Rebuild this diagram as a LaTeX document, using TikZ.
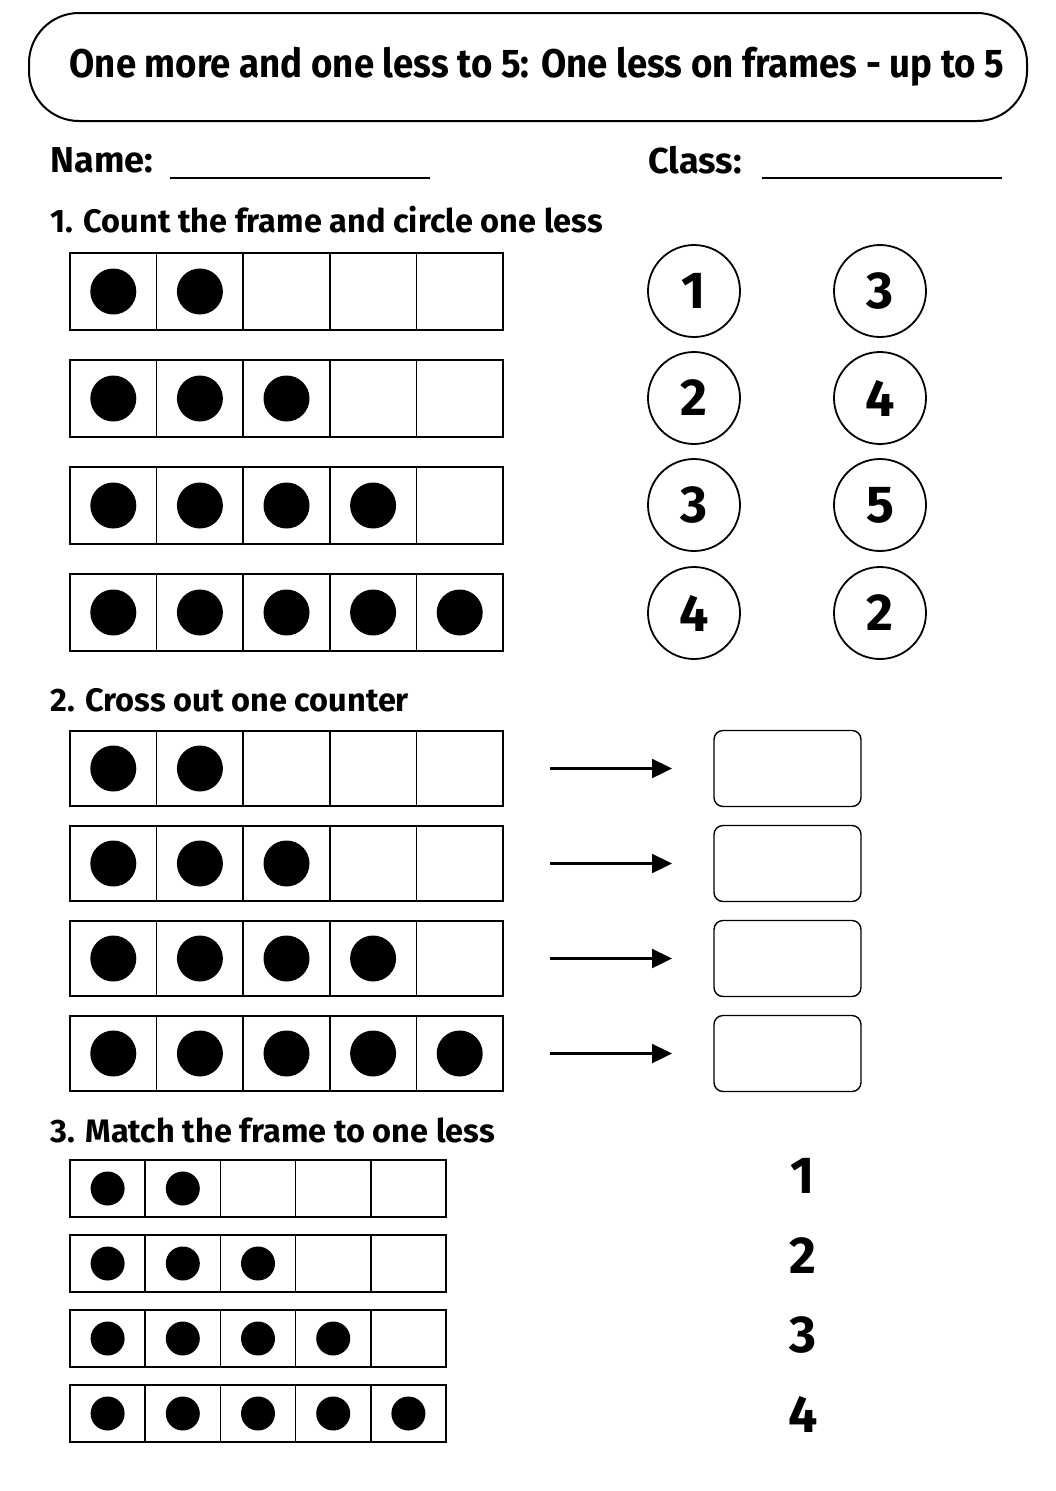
\documentclass[tikz,border=0pt]{standalone}
\usepackage{fontspec}
\setmainfont{Fira Sans}
\usetikzlibrary{arrows.meta}
\begin{document}
\begin{tikzpicture}[x=1pt,y=-1pt,
  cell/.style={draw,line width=1.6pt},
  dot/.style={fill=black},
  numc/.style={draw,circle,line width=1.8pt,minimum size=92pt,inner sep=0pt,font=\fontsize{52}{52}\selectfont\bfseries},
  head/.style={anchor=west,font=\fontsize{32.5}{33}\selectfont\bfseries},
  ansbox/.style={draw,line width=1.4pt,rounded corners=9pt,minimum width=147pt,minimum height=76pt},
  bignum/.style={font=\fontsize{52}{52}\selectfont\bfseries}]
\useasboundingbox (0,0) rectangle (1055,1491);
% title
\node[draw,line width=2pt,rounded corners=50pt,minimum width=998pt,minimum height=108pt] (title) at (528,67) {};
\node[font=\fontsize{40}{40}\selectfont\bfseries,xscale=0.915] (tt) at (537,67) {One more and one less to 5: One less on frames - up to 5};
% name/class
\node[head,font=\fontsize{36}{36}\selectfont\bfseries] (name) at (47,160) {Name:};
\draw[line width=1.6pt] (170,178) -- (430,178);
\node[head,font=\fontsize{36}{36}\selectfont\bfseries] (class) at (645,160) {Class:};
\draw[line width=1.6pt] (762,178) -- (1002,178);
% section 1
\node[head] (h1) at (47,220) {1. Count the frame and circle one less};
\foreach \y/\n in {253/2,360/3,467/4,574/5}{
  \foreach \i in {0,...,4}{
    \draw[cell] ({70+\i*86.6},\y) rectangle ({70+(\i+1)*86.6},\y+77);
  }
  \foreach \i in {1,...,\n}{
    \fill[dot] ({70+(\i-0.5)*86.6},\y+38.5) circle (23);
  }
}
\foreach \y/\a/\b [count=\k] in {291/1/3,398/2/4,505/3/5,613/4/2}{
  \node[numc] (ca\k) at (694,\y) {\a};
  \node[numc] (cb\k) at (880,\y) {\b};
}
% section 2
\node[head] (h2) at (47,700) {2. Cross out one counter};
\foreach \y/\n [count=\k] in {731/2,826/3,921/4,1016/5}{
  \foreach \i in {0,...,4}{
    \draw[cell] ({70+\i*86.6},\y) rectangle ({70+(\i+1)*86.6},\y+75);
  }
  \foreach \i in {1,...,\n}{
    \fill[dot] ({70+(\i-0.5)*86.6},\y+37.5) circle (23);
  }
  \node[ansbox] (box\k) at (787.5,\y+37.5) {};
  \coordinate (as\k) at (550,\y+37.5);
  \coordinate (ae\k) at (672,\y+37.5);
  \draw[line width=2.4pt,-{Triangle[length=20pt,width=19pt]}] (as\k) -- (ae\k);
}
% section 3
\node[head] (h3) at (47,1130) {3. Match the frame to one less};
\foreach \y/\n [count=\k] in {1160/2,1235/3,1310/4,1385/5}{
  \foreach \i in {0,...,4}{
    \draw[cell] ({70+\i*75.2},\y) rectangle ({70+(\i+1)*75.2},\y+57);
  }
  \foreach \i in {1,...,\n}{
    \fill[dot] ({70+(\i-0.5)*75.2},\y+28.5) circle (17);
  }
}
\foreach \y/\m [count=\k] in {1176/1,1256/2,1335/3,1414/4}{
  \node[bignum] (m\k) at (803,\y) {\m};
}
\end{tikzpicture}
\end{document}
